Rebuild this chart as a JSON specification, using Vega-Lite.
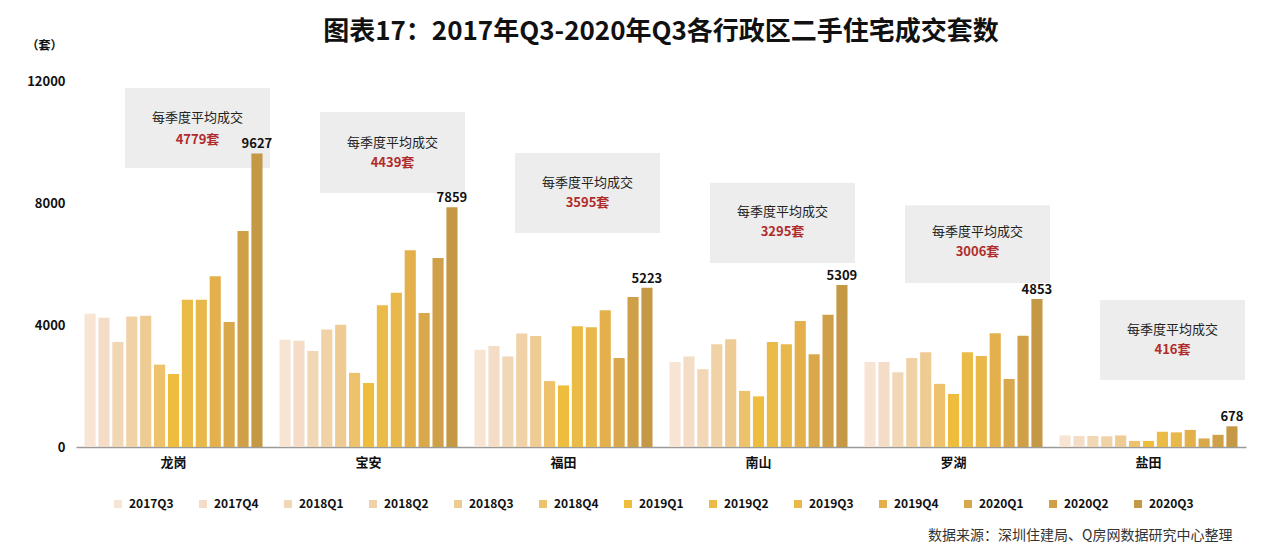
{
  "$schema": "https://vega.github.io/schema/vega-lite/v6.json",
  "width": 1170,
  "height": 366,
  "autosize": {"type": "none"},
  "padding": {"left": 76, "top": 81, "right": 34, "bottom": 111},
  "background": "#ffffff",
  "config": {"font": "Noto Sans CJK SC", "view": {"stroke": null}},
  "title": {
    "text": "图表17：2017年Q3-2020年Q3各行政区二手住宅成交套数",
    "fontSize": 26,
    "fontWeight": "bold",
    "color": "#111111",
    "anchor": "middle",
    "offset": -6
  },
  "datasets": {
    "deals": [
      {"district": "龙岗", "quarter": "2017Q3", "value": 4370},
      {"district": "龙岗", "quarter": "2017Q4", "value": 4240},
      {"district": "龙岗", "quarter": "2018Q1", "value": 3440},
      {"district": "龙岗", "quarter": "2018Q2", "value": 4280},
      {"district": "龙岗", "quarter": "2018Q3", "value": 4300},
      {"district": "龙岗", "quarter": "2018Q4", "value": 2700},
      {"district": "龙岗", "quarter": "2019Q1", "value": 2390},
      {"district": "龙岗", "quarter": "2019Q2", "value": 4830},
      {"district": "龙岗", "quarter": "2019Q3", "value": 4830},
      {"district": "龙岗", "quarter": "2019Q4", "value": 5600},
      {"district": "龙岗", "quarter": "2020Q1", "value": 4100},
      {"district": "龙岗", "quarter": "2020Q2", "value": 7080},
      {"district": "龙岗", "quarter": "2020Q3", "value": 9627},
      {"district": "宝安", "quarter": "2017Q3", "value": 3520},
      {"district": "宝安", "quarter": "2017Q4", "value": 3480},
      {"district": "宝安", "quarter": "2018Q1", "value": 3150},
      {"district": "宝安", "quarter": "2018Q2", "value": 3850},
      {"district": "宝安", "quarter": "2018Q3", "value": 4010},
      {"district": "宝安", "quarter": "2018Q4", "value": 2430},
      {"district": "宝安", "quarter": "2019Q1", "value": 2100},
      {"district": "宝安", "quarter": "2019Q2", "value": 4650},
      {"district": "宝安", "quarter": "2019Q3", "value": 5060},
      {"district": "宝安", "quarter": "2019Q4", "value": 6450},
      {"district": "宝安", "quarter": "2020Q1", "value": 4390},
      {"district": "宝安", "quarter": "2020Q2", "value": 6200},
      {"district": "宝安", "quarter": "2020Q3", "value": 7859},
      {"district": "福田", "quarter": "2017Q3", "value": 3190},
      {"district": "福田", "quarter": "2017Q4", "value": 3310},
      {"district": "福田", "quarter": "2018Q1", "value": 2970},
      {"district": "福田", "quarter": "2018Q2", "value": 3720},
      {"district": "福田", "quarter": "2018Q3", "value": 3640},
      {"district": "福田", "quarter": "2018Q4", "value": 2160},
      {"district": "福田", "quarter": "2019Q1", "value": 2020},
      {"district": "福田", "quarter": "2019Q2", "value": 3960},
      {"district": "福田", "quarter": "2019Q3", "value": 3930},
      {"district": "福田", "quarter": "2019Q4", "value": 4480},
      {"district": "福田", "quarter": "2020Q1", "value": 2920},
      {"district": "福田", "quarter": "2020Q2", "value": 4920},
      {"district": "福田", "quarter": "2020Q3", "value": 5223},
      {"district": "南山", "quarter": "2017Q3", "value": 2790},
      {"district": "南山", "quarter": "2017Q4", "value": 2970},
      {"district": "南山", "quarter": "2018Q1", "value": 2550},
      {"district": "南山", "quarter": "2018Q2", "value": 3370},
      {"district": "南山", "quarter": "2018Q3", "value": 3530},
      {"district": "南山", "quarter": "2018Q4", "value": 1840},
      {"district": "南山", "quarter": "2019Q1", "value": 1660},
      {"district": "南山", "quarter": "2019Q2", "value": 3440},
      {"district": "南山", "quarter": "2019Q3", "value": 3370},
      {"district": "南山", "quarter": "2019Q4", "value": 4130},
      {"district": "南山", "quarter": "2020Q1", "value": 3040},
      {"district": "南山", "quarter": "2020Q2", "value": 4340},
      {"district": "南山", "quarter": "2020Q3", "value": 5309},
      {"district": "罗湖", "quarter": "2017Q3", "value": 2790},
      {"district": "罗湖", "quarter": "2017Q4", "value": 2790},
      {"district": "罗湖", "quarter": "2018Q1", "value": 2450},
      {"district": "罗湖", "quarter": "2018Q2", "value": 2920},
      {"district": "罗湖", "quarter": "2018Q3", "value": 3110},
      {"district": "罗湖", "quarter": "2018Q4", "value": 2070},
      {"district": "罗湖", "quarter": "2019Q1", "value": 1740},
      {"district": "罗湖", "quarter": "2019Q2", "value": 3110},
      {"district": "罗湖", "quarter": "2019Q3", "value": 2980},
      {"district": "罗湖", "quarter": "2019Q4", "value": 3730},
      {"district": "罗湖", "quarter": "2020Q1", "value": 2230},
      {"district": "罗湖", "quarter": "2020Q2", "value": 3650},
      {"district": "罗湖", "quarter": "2020Q3", "value": 4853},
      {"district": "盐田", "quarter": "2017Q3", "value": 380},
      {"district": "盐田", "quarter": "2017Q4", "value": 360},
      {"district": "盐田", "quarter": "2018Q1", "value": 360},
      {"district": "盐田", "quarter": "2018Q2", "value": 350},
      {"district": "盐田", "quarter": "2018Q3", "value": 380},
      {"district": "盐田", "quarter": "2018Q4", "value": 200},
      {"district": "盐田", "quarter": "2019Q1", "value": 200},
      {"district": "盐田", "quarter": "2019Q2", "value": 500},
      {"district": "盐田", "quarter": "2019Q3", "value": 480},
      {"district": "盐田", "quarter": "2019Q4", "value": 560},
      {"district": "盐田", "quarter": "2020Q1", "value": 280},
      {"district": "盐田", "quarter": "2020Q2", "value": 400},
      {"district": "盐田", "quarter": "2020Q3", "value": 678}
    ],
    "averages": [
      {"district": "龙岗", "avg": 4779, "boxHigh": 11770, "boxLow": 9150, "line1": 10790, "line2": 10070},
      {"district": "宝安", "avg": 4439, "boxHigh": 10980, "boxLow": 8330, "line1": 9970, "line2": 9310},
      {"district": "福田", "avg": 3595, "boxHigh": 9640, "boxLow": 7020, "line1": 8660, "line2": 8000},
      {"district": "南山", "avg": 3295, "boxHigh": 8660, "boxLow": 6030, "line1": 7700, "line2": 7050},
      {"district": "罗湖", "avg": 3006, "boxHigh": 7930, "boxLow": 5380, "line1": 7050, "line2": 6390},
      {"district": "盐田", "avg": 416, "boxHigh": 4820, "boxLow": 2200, "line1": 3840, "line2": 3180}
    ]
  },
  "encoding": {
    "x": {
      "field": "district",
      "type": "nominal",
      "sort": ["龙岗", "宝安", "福田", "南山", "罗湖", "盐田"],
      "scale": {"paddingInner": 0.087, "paddingOuter": 0.0435},
      "axis": {
        "labelAngle": 0,
        "labelFontWeight": "bold",
        "labelFontSize": 13,
        "labelColor": "#111111",
        "labelPadding": 9,
        "ticks": false,
        "domainColor": "#9a9a9a",
        "domainWidth": 1.5,
        "title": "数据来源：深圳住建局、Q房网数据研究中心整理",
        "titleAnchor": "end",
        "titleAlign": "right",
        "titleBaseline": "middle",
        "titleX": 1156,
        "titleY": 88,
        "titleFontSize": 14,
        "titleFontWeight": "normal",
        "titleColor": "#333333"
      }
    }
  },
  "layer": [
    {
      "data": {"name": "averages"},
      "mark": {"type": "bar", "width": 145, "xOffset": 24, "color": "#ededed"},
      "encoding": {
        "y": {"field": "boxHigh", "type": "quantitative"},
        "y2": {"field": "boxLow"}
      }
    },
    {
      "data": {"name": "averages"},
      "mark": {"type": "text", "xOffset": 24, "fontSize": 13, "color": "#222222", "baseline": "middle"},
      "encoding": {
        "y": {"field": "line1", "type": "quantitative"},
        "text": {"value": "每季度平均成交"}
      }
    },
    {
      "data": {"name": "averages"},
      "transform": [{"calculate": "datum.avg + '套'", "as": "avgLabel"}],
      "mark": {"type": "text", "xOffset": 24, "fontSize": 13, "fontWeight": "bold", "color": "#b02c2c", "baseline": "middle"},
      "encoding": {
        "y": {"field": "line2", "type": "quantitative"},
        "text": {"field": "avgLabel", "type": "nominal"}
      }
    },
    {
      "data": {"name": "deals"},
      "mark": {"type": "bar"},
      "encoding": {
        "xOffset": {
          "field": "quarter",
          "type": "nominal",
          "sort": ["2017Q3", "2017Q4", "2018Q1", "2018Q2", "2018Q3", "2018Q4", "2019Q1", "2019Q2", "2019Q3", "2019Q4", "2020Q1", "2020Q2", "2020Q3"],
          "scale": {"paddingInner": 0.2, "paddingOuter": 0}
        },
        "y": {
          "field": "value",
          "type": "quantitative",
          "scale": {"domain": [0, 12000], "nice": false},
          "axis": {
            "values": [0, 4000, 8000, 12000],
            "format": "d",
            "domain": false,
            "ticks": false,
            "grid": false,
            "labelFontWeight": "bold",
            "labelFontSize": 13,
            "labelColor": "#111111",
            "labelPadding": 11,
            "title": "（套）",
            "titleAngle": 0,
            "titleAlign": "center",
            "titleBaseline": "middle",
            "titleX": -32,
            "titleY": -36,
            "titleFontSize": 12,
            "titleFontWeight": "bold",
            "titleColor": "#111111"
          }
        },
        "color": {
          "field": "quarter",
          "type": "nominal",
          "sort": ["2017Q3", "2017Q4", "2018Q1", "2018Q2", "2018Q3", "2018Q4", "2019Q1", "2019Q2", "2019Q3", "2019Q4", "2020Q1", "2020Q2", "2020Q3"],
          "scale": {
            "domain": ["2017Q3", "2017Q4", "2018Q1", "2018Q2", "2018Q3", "2018Q4", "2019Q1", "2019Q2", "2019Q3", "2019Q4", "2020Q1", "2020Q2", "2020Q3"],
            "range": ["#f7e4d3", "#f4dcc6", "#f1d7b6", "#f0d2a6", "#efcb94", "#eec16c", "#efbd3e", "#ebbb48", "#e8b84a", "#e3b04c", "#d9a84b", "#cfa047", "#c49844"]
          },
          "legend": {
            "orient": "none",
            "legendX": 36,
            "legendY": 417,
            "direction": "horizontal",
            "columns": 13,
            "gridAlign": "all",
            "columnPadding": 23,
            "title": null,
            "symbolType": "square",
            "symbolSize": 64,
            "symbolStrokeWidth": 0,
            "labelFontSize": 12,
            "labelFontWeight": "bold",
            "labelColor": "#111111",
            "labelOffset": 5
          }
        }
      }
    },
    {
      "data": {"name": "deals"},
      "transform": [{"filter": "datum.quarter === '2020Q3'"}],
      "mark": {"type": "text", "dy": -9, "fontSize": 13, "fontWeight": "bold", "color": "#111111"},
      "encoding": {
        "xOffset": {"field": "quarter", "type": "nominal"},
        "y": {"field": "value", "type": "quantitative"},
        "text": {"field": "value", "type": "quantitative", "format": "d"}
      }
    }
  ]
}
